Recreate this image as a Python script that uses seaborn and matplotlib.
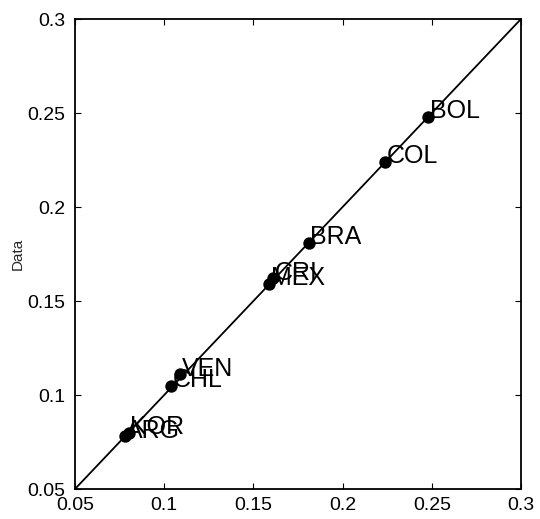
import matplotlib
matplotlib.use("Agg")
import matplotlib.pyplot as plt
import seaborn as sns
import pandas as pd

countries = ["BOL", "COL", "BRA", "CRI", "MEX", "VEN", "CHL", "KOR", "ARG"]
model_vals = [0.248, 0.224, 0.181, 0.161, 0.159, 0.109, 0.104, 0.080, 0.078]
data_vals = [0.248, 0.224, 0.181, 0.162, 0.159, 0.111, 0.105, 0.080, 0.078]
diag = [0.05, 0.3]
ticks = [0.05, 0.1, 0.15, 0.2, 0.25, 0.3]
tick_labels = ["0.05", "0.1", "0.15", "0.2", "0.25", "0.3"]

sns.set_theme(style="white")
plt.rcParams['font.family'] = ['Liberation Sans', 'DejaVu Sans']

fig = plt.figure(figsize=(5.40, 5.19), dpi=100)
ax = fig.add_axes([75/540, 30/519, 446/540, 470/519])

df = pd.DataFrame({"model": model_vals, "data": data_vals, "name": countries})
sns.lineplot(x=diag, y=diag, ax=ax, color="black", linewidth=1.3)
sns.scatterplot(data=df, x="model", y="data", ax=ax, color="black", s=80,
                edgecolor="black", linewidth=0, zorder=3)
for n, xv, yv in zip(countries, model_vals, data_vals):
    ax.annotate(n, (xv, yv), xytext=(1, -1), textcoords="offset points",
                ha="left", va="baseline", fontsize=18, color="black")

ax.set_xlim(0.05, 0.3)
ax.set_ylim(0.05, 0.3)
ax.set_xticks(ticks)
ax.set_xticklabels(tick_labels)
ax.set_yticks(ticks)
ax.set_yticklabels(tick_labels)
ax.set_xlabel("")
ax.set_ylabel("Data", fontsize=11, labelpad=2)
ax.tick_params(direction="in", length=4, width=0.8, labelsize=14,
               top=True, right=True, bottom=True, left=True, colors="black")
ax.tick_params(axis="x", pad=6)
ax.tick_params(axis="y", pad=7)
for s in ax.spines.values():
    s.set_color("black")
    s.set_linewidth(1.3)

fig.savefig("out.png", dpi=100)
